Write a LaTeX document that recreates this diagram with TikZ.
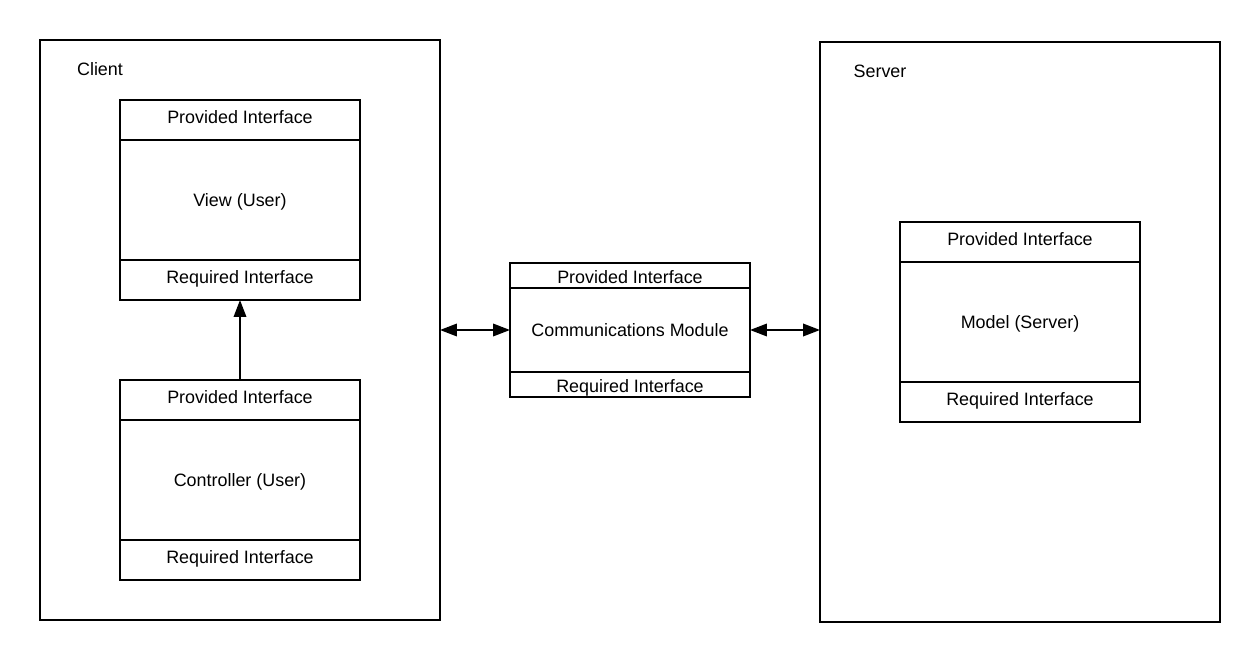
\documentclass[tikz,border=0pt]{standalone}
\usepackage{fontspec}
\setmainfont{Liberation Sans}
\usetikzlibrary{arrows.meta}

\begin{document}
\begin{tikzpicture}[x=0.02cm,y=-0.02cm]
	\tikzstyle{every node}+=[inner sep=0pt, outer sep=0pt, font=\fontsize{10.2}{12}\selectfont]
	\tikzstyle{sidebox}=[draw=black, line width=1.1pt, minimum width=8cm, minimum height=11.6cm]
	\tikzstyle{bar}=[draw=black, line width=1.1pt, minimum width=4.8cm, minimum height=0.8cm, text height=7.4pt, text depth=3.4pt]
	\tikzstyle{thinbar}=[bar, minimum height=0.5cm, text height=9.6pt, text depth=0pt]
	\tikzstyle{body}=[draw=black, line width=1.1pt, minimum width=4.8cm, minimum height=2.4cm, text height=7.4pt, text depth=0pt]
	\tikzstyle{link}=[black, line width=1.1pt, {Triangle[length=0.34cm,width=0.25cm]}-{Triangle[length=0.34cm,width=0.25cm]}]
	\useasboundingbox (0,0) rectangle (1260,662);
	% client side
	\node [sidebox] (client) at (240,330) {};
	\node (clientlbl) at (100,69) {Client};
	\node [bar] (viewpi) at (240,120) {Provided Interface};
	\node [body] (view) at (240,200) {View (User)};
	\node [bar] (viewri) at (240,280) {Required Interface};
	\node [bar] (ctrlpi) at (240,400) {Provided Interface};
	\node [body] (ctrl) at (240,480) {Controller (User)};
	\node [bar] (ctrlri) at (240,560) {Required Interface};
	\draw [black, line width=1.1pt, -{Triangle[length=0.34cm,width=0.25cm]}] (ctrlpi.north) -- (viewri.south);
	% communications
	\node [thinbar] (commpi) at (630,275.5) {Provided Interface};
	\node [body, minimum height=1.68cm] (comm) at (630,330) {Communications Module};
	\node [thinbar] (commri) at (630,384.5) {Required Interface};
	% server side
	\node [sidebox] (server) at (1020,332) {};
	\node (serverlbl) at (880,71) {Server};
	\node [bar] (modelpi) at (1020,242) {Provided Interface};
	\node [body] (model) at (1020,322) {Model (Server)};
	\node [bar] (modelri) at (1020,402) {Required Interface};
	% links
	\draw [link] (client.east) -- (comm.west);
	\draw [link] (comm.east) -- (comm.east -| server.west);
\end{tikzpicture}
\end{document}
